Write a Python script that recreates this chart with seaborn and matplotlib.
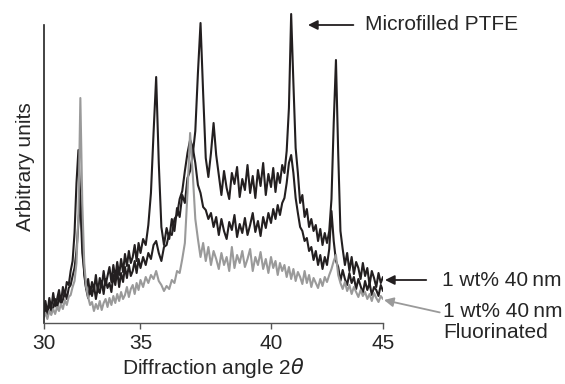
import numpy as np
import pandas as pd
import seaborn as sns
import matplotlib
matplotlib.use('Agg')
import matplotlib.pyplot as plt

sns.set_style('white')
plt.rcParams['font.family'] = ['Liberation Sans', 'DejaVu Sans']
plt.rcParams['mathtext.fontset'] = 'dejavusans'

# 2theta sampling grid, 30.0 .. 45.0 in 0.1 steps
theta = np.arange(300, 451) / 10

# intensities (arbitrary units)
microfilled = [
    10, 22, 9, 25, 14, 30, 17, 24, 33, 20,
    36, 27, 41, 38, 52, 62, 90, 140, 173, 120,
    70, 52, 34, 44, 29, 41, 33, 48, 31, 45,
    36, 52, 38, 47, 56, 41, 58, 45, 61, 48,
    64, 51, 69, 57, 72, 60, 66, 78, 62, 80,
    70, 84, 78, 98, 130, 190, 246, 160, 96, 78,
    95, 84, 104, 92, 115, 106, 128, 120, 145, 152,
    168, 192, 250, 300, 230, 165, 146, 170, 200, 168,
    148, 128, 152, 135, 124, 150, 139, 156, 126, 144,
    133, 158, 130, 147, 125, 153, 137, 160, 128, 149,
    136, 155, 131, 150, 140, 158, 150, 172, 215, 309,
    240, 175, 150, 120, 128, 106, 114, 96, 104, 92,
    98, 82, 94, 78, 90, 80, 92, 124, 200, 263,
    170, 92, 74, 58, 70, 52, 66, 49, 61, 55,
    44, 60, 47, 55, 38, 52, 45, 36, 50, 40,
    46]
nano_40nm = [
    7, 16, 9, 20, 12, 15, 24, 14, 27, 19,
    23, 31, 24, 35, 38, 47, 55, 72, 100, 128,
    85, 48, 34, 25, 36, 27, 38, 24, 35, 30,
    42, 29, 44, 35, 40, 31, 48, 38, 52, 36,
    50, 41, 56, 45, 58, 47, 52, 62, 50, 64,
    55, 66, 58, 70, 64, 78, 82, 70, 62, 76,
    78, 90, 88, 104, 108, 124, 132, 152, 170, 183,
    176, 160, 138, 130, 116, 113, 104, 110, 96, 106,
    88, 104, 92, 84, 101, 93, 108, 86, 99, 90,
    105, 88, 98, 110, 91, 102, 87, 106, 95, 110,
    100, 114, 104, 118, 108, 120, 125, 140, 160, 168,
    150, 125, 110, 96, 92, 82, 85, 72, 76, 63,
    72, 58, 68, 54, 66, 58, 74, 112, 82, 62,
    56, 42, 53, 44, 38, 50, 40, 46, 34, 44,
    37, 30, 42, 33, 40, 28, 36, 33, 27, 38,
    32]
fluorinated = [
    5, 10, 4, 12, 8, 14, 9, 16, 12, 19,
    14, 23, 18, 26, 28, 36, 42, 60, 110, 225,
    120, 60, 36, 26, 18, 21, 12, 19, 14, 22,
    13, 20, 24, 16, 25, 18, 27, 20, 29, 22,
    31, 24, 28, 36, 26, 34, 38, 29, 40, 33,
    43, 36, 46, 40, 48, 44, 52, 42, 38, 32,
    37, 34, 43, 40, 52, 50, 64, 80, 130, 190,
    150, 104, 84, 66, 80, 62, 76, 58, 72, 64,
    54, 70, 58, 66, 52, 76, 55, 68, 60, 72,
    56, 64, 74, 52, 66, 58, 71, 54, 64, 50,
    66, 55, 62, 48, 60, 52, 58, 46, 56, 44,
    54, 42, 51, 46, 39, 52, 40, 48, 36, 45,
    40, 35, 44, 37, 46, 41, 48, 54, 62, 68,
    48, 40, 34, 41, 32, 38, 29, 36, 31, 26,
    33, 27, 31, 24, 29, 22, 30, 25, 21, 27,
    24]

tick_vals = [30, 35, 40, 45]
# the printed axis is not evenly spaced: where each tick sits along it
tick_pos = [0, 97, 227.5, 339.5]

black = '#231f20'
grey = '#9a9a9a'

fig = plt.figure(figsize=(5.65, 3.84), dpi=100)
ax = fig.add_axes([43.5 / 565, 61 / 384, 339.5 / 565, 312 / 384])

ax.set_xscale('function', functions=(lambda v: np.interp(v, tick_vals, tick_pos),
                                     lambda p: np.interp(p, tick_pos, tick_vals)))

df = pd.DataFrame({'theta': theta, 'Microfilled PTFE': microfilled,
                   '1 wt% 40 nm': nano_40nm, 'Fluorinated': fluorinated})
sns.lineplot(data=df, x='theta', y='Microfilled PTFE', color=black, lw=1.5, ax=ax, estimator=None)
sns.lineplot(data=df, x='theta', y='1 wt% 40 nm', color=black, lw=1.5, ax=ax, estimator=None)
sns.lineplot(data=df, x='theta', y='Fluorinated', color=grey, lw=1.5, ax=ax, estimator=None)

ax.set_xlim(30, 45)
ax.set_ylim(0, 312)
ax.set_xticks(tick_vals)
ax.set_xticklabels([str(t) for t in tick_vals])
ax.set_yticks([])
ax.xaxis.set_minor_locator(matplotlib.ticker.NullLocator())
ax.tick_params(axis='x', direction='out', length=4, width=1, color='#555555',
               labelsize=15, pad=4, bottom=True)
for s in ['top', 'right']:
    ax.spines[s].set_visible(False)
ax.spines['left'].set_bounds(0, 298)
ax.spines['left'].set_color('#222222')
ax.spines['bottom'].set_color('#555555')
ax.spines['left'].set_linewidth(1.2)
ax.spines['bottom'].set_linewidth(1)

ax.set_xlabel(r'Diffraction angle 2$\theta$', fontsize=15, labelpad=2)
ax.set_ylabel('Arbitrary units', fontsize=15, labelpad=6)

# labels with arrows (figure pixel coordinates)
ax.annotate('Microfilled PTFE', xy=(308, 384 - 25), xycoords='figure pixels',
            xytext=(365, 384 - 25), textcoords='figure pixels',
            fontsize=15, va='center', ha='left',
            arrowprops=dict(arrowstyle='-|>', color=black, lw=1.3,
                            mutation_scale=14, shrinkA=6, shrinkB=0))
ax.annotate('1 wt% 40\u2009nm', xy=(385, 384 - 280), xycoords='figure pixels',
            xytext=(442, 384 - 280), textcoords='figure pixels',
            fontsize=15, va='center', ha='left',
            arrowprops=dict(arrowstyle='-|>', color=black, lw=1.3,
                            mutation_scale=14, shrinkA=9, shrinkB=0))
ax.annotate('1 wt% 40\u2009nm\nFluorinated', xy=(384, 384 - 300), xycoords='figure pixels',
            xytext=(443, 384 - 322), textcoords='figure pixels',
            fontsize=15, va='center', ha='left', linespacing=1.15,
            arrowprops=dict(arrowstyle='-|>', color=grey, lw=1.3,
                            mutation_scale=14, shrinkA=0, shrinkB=0,
                            relpos=(0, 0.72)))

fig.savefig('out.png', dpi=100)
